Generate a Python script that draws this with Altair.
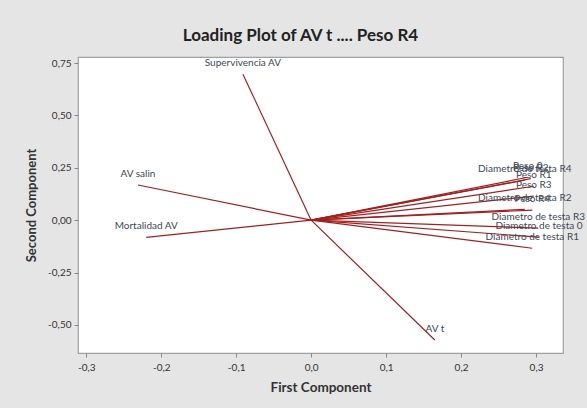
import altair as alt
import pandas as pd

variables = [
    "Supervivencia AV", "AV salin", "Mortalidad AV", "AV t",
    "Diametro de testa R4", "Peso 0", "Peso R2", "Peso R1", "Peso R3",
    "Diametro de testa R2", "Peso R4", "Diametro de testa R3",
    "Diametro de testa 0", "Diametro de testa R1",
]
first_comp = [-0.091, -0.231, -0.220, 0.165,
              0.285, 0.289, 0.293, 0.297, 0.297,
              0.285, 0.295, 0.303, 0.304, 0.295]
second_comp = [0.697, 0.168, -0.082, -0.572,
               0.191, 0.205, 0.198, 0.162, 0.115,
               0.052, 0.048, -0.038, -0.081, -0.134]

x_ticks = [-0.3, -0.2, -0.1, 0.0, 0.1, 0.2, 0.3]
y_ticks = [-0.5, -0.25, 0.0, 0.25, 0.5, 0.75]

df = pd.DataFrame({"var": variables, "pc1": first_comp, "pc2": second_comp})

FONT = "Lato"

xscale = alt.Scale(domain=[-0.311, 0.336], nice=False, zero=False)
yscale = alt.Scale(domain=[-0.634, 0.779], nice=False, zero=False)

xaxis = alt.Axis(
    title="First Component", values=x_ticks,
    labelExpr="(datum.value < -0.0001 ? '-' : '') + replace(format(abs(datum.value), '.1f'), '.', ',')",
    grid=False, domain=False, tickSize=4, tickColor="#888888",
    labelFontSize=10, labelColor="#333333", labelPadding=5,
    titleFontSize=13.5, titleFontWeight="bold", titleColor="#333333", titlePadding=8,
    labelFont=FONT, titleFont=FONT,
)
yaxis = alt.Axis(
    title="Second Component", values=y_ticks,
    labelExpr="(datum.value < -0.0001 ? '-' : '') + replace(format(abs(datum.value), '.2f'), '.', ',')",
    grid=False, domain=False, tickSize=4, tickColor="#888888",
    labelFontSize=10, labelColor="#333333", labelPadding=3,
    titleFontSize=13, titleFontWeight="bold", titleColor="#333333", titlePadding=9,
    labelFont=FONT, titleFont=FONT,
)

base = alt.Chart(df)

lines = base.mark_rule(color="#a3201f", strokeWidth=1.2).encode(
    x=alt.X("pc1:Q", scale=xscale, axis=xaxis),
    y=alt.Y("pc2:Q", scale=yscale, axis=yaxis),
    x2=alt.datum(0),
    y2=alt.datum(0),
)

labels = base.mark_text(
    dy=-11, align="center", baseline="middle", fontSize=10, font=FONT, color="#3d4756"
).encode(
    x=alt.X("pc1:Q", scale=xscale),
    y=alt.Y("pc2:Q", scale=yscale),
    text="var:N",
)

chart = (lines + labels).properties(
    width=485, height=296,
    title=alt.TitleParams(
        "Loading Plot of AV t .... Peso R4", fontSize=17, font=FONT,
        fontWeight="bold", color="#222222", anchor="middle", dx=-20, offset=12,
    ),
    background="#e5e5e5",
    autosize=alt.AutoSizeParams(type="none"),
    padding={"left": 78, "top": 57, "right": 24, "bottom": 55},
).configure_view(fill="white", stroke="#a0a0a0", strokeWidth=1.2)

chart.save("out.html", embed_options={"renderer": "svg", "actions": False})
